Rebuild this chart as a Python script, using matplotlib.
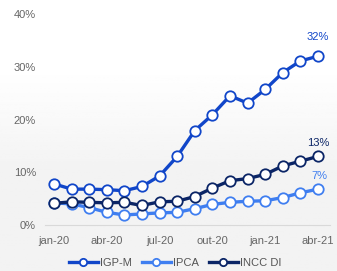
import numpy as np
import matplotlib.pyplot as plt

plt.rcParams['font.family'] = ['Liberation Sans', 'DejaVu Sans']

# 12-month accumulated inflation, jan-20 .. abr-21
months = ['jan-20', 'fev-20', 'mar-20', 'abr-20', 'mai-20', 'jun-20', 'jul-20', 'ago-20',
          'set-20', 'out-20', 'nov-20', 'dez-20', 'jan-21', 'fev-21', 'mar-21', 'abr-21']
igpm = [7.8, 6.8, 6.8, 6.7, 6.5, 7.3, 9.3, 13.0, 17.9, 20.9, 24.5, 23.1, 25.7, 28.9, 31.1, 32.0]
ipca = [4.2, 4.0, 3.3, 2.4, 1.9, 2.1, 2.3, 2.4, 3.1, 3.9, 4.3, 4.5, 4.6, 5.2, 6.1, 6.8]
incc = [4.1, 4.4, 4.3, 4.2, 4.3, 3.7, 4.4, 4.5, 5.4, 7.0, 8.4, 8.8, 9.6, 11.2, 12.1, 13.0]
tick_idx = [0, 3, 6, 9, 12, 15]

c_igpm = '#1146c9'
c_ipca = '#3f7ef0'
c_incc = '#0b2566'

fig = plt.figure(figsize=(3.37, 2.71), dpi=100)
# faint gray wash on the lower part of the background
bg = fig.add_axes([0, 0, 1, 1], zorder=-10)
grad = np.linspace(0, 1, 100).reshape(-1, 1)
bg.imshow(1 - 0.05 * np.clip((grad - 0.25) / 0.4, 0, 1), cmap='gray', vmin=0, vmax=1,
          aspect='auto', extent=[0, 1, 0, 1], origin='upper')
bg.axis('off')

ax = fig.add_axes([45 / 337, 46 / 271, 285 / 337, 211 / 271])
ax.patch.set_alpha(0)
x = np.arange(len(months))

for vals, col, lab in [(igpm, c_igpm, 'IGP-M'), (ipca, c_ipca, 'IPCA'), (incc, c_incc, 'INCC DI')]:
    ax.plot(x, vals, color=col, lw=2.4, marker='o', ms=7.5, mfc='white', mec=col,
            mew=1.3, label=lab, clip_on=False)

ax.set_xlim(-0.51, 15.68)
ax.set_ylim(0, 40)
ax.set_yticks([0, 10, 20, 30, 40])
ax.set_yticklabels(['0%', '10%', '20%', '30%', '40%'])
ax.set_xticks(tick_idx)
ax.set_xticklabels([months[i] for i in tick_idx])
ax.tick_params(length=0, labelsize=8, colors='#666666', pad=8)
ax.tick_params(axis='y', pad=6.5)
for s in ['top', 'right', 'left']:
    ax.spines[s].set_visible(False)
ax.spines['bottom'].set_color('#d9d9d9')

ax.annotate(f'{igpm[-1]:.0f}%', (x[-1], igpm[-1]), xytext=(0, 10), textcoords='offset points',
            ha='center', va='bottom', fontsize=8, color=c_igpm)
ax.annotate(f'{incc[-1]:.0f}%', (x[-1], incc[-1]), xytext=(0, 6), textcoords='offset points',
            ha='center', va='bottom', fontsize=8, color=c_incc)
ax.annotate(f'{ipca[-1]:.0f}%', (x[-1], ipca[-1]), xytext=(1, 6), textcoords='offset points',
            ha='center', va='bottom', fontsize=8, color=c_ipca)

fig.legend(loc='center', bbox_to_anchor=(0.52, 0.03), ncol=3, frameon=False, fontsize=8,
           handlelength=2.6, handletextpad=0.2, columnspacing=0.9, labelcolor='#555555',
           markerscale=0.7)

fig.savefig('out.png', dpi=100)
